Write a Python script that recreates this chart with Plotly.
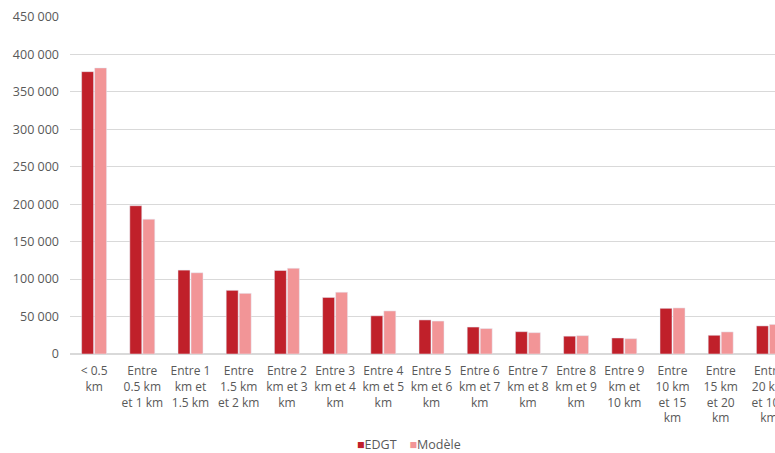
import plotly.graph_objects as go

categories = [
    "< 0.5<br>km",
    "Entre<br>0.5 km<br>et 1 km",
    "Entre 1<br>km et<br>1.5 km",
    "Entre<br>1.5 km<br>et 2 km",
    "Entre 2<br>km et 3<br>km",
    "Entre 3<br>km et 4<br>km",
    "Entre 4<br>km et 5<br>km",
    "Entre 5<br>km et 6<br>km",
    "Entre 6<br>km et 7<br>km",
    "Entre 7<br>km et 8<br>km",
    "Entre 8<br>km et 9<br>km",
    "Entre 9<br>km et<br>10 km",
    "Entre<br>10 km<br>et 15<br>km",
    "Entre<br>15 km<br>et 20<br>km",
    "Entre<br>20 km<br>et 100<br>km",
]
edgt = [377000, 198000, 112000, 85000, 111500, 75500, 51000, 45500, 36000,
        29800, 23800, 21400, 61000, 25000, 37500]
modele = [382000, 180000, 108500, 81000, 114500, 82500, 57500, 44000, 34000,
          28500, 24500, 20500, 61500, 29500, 39500]
y_ticks = [0, 50000, 100000, 150000, 200000, 250000, 300000, 350000, 400000, 450000]
series_names = ["EDGT", "Modèle"]
series_colors = ["#C0202A", "#F29597"]

x = list(range(len(categories)))

fig = go.Figure()
fig.add_trace(go.Bar(x=x, y=edgt, name=series_names[0], marker_color=series_colors[0]))
fig.add_trace(go.Bar(x=x, y=modele, name=series_names[1], marker_color=series_colors[1]))

legend_text = "    ".join(
    f"<span style='color:{c}'>■</span>{n}" for n, c in zip(series_names, series_colors)
)

fig.update_layout(
    width=775, height=453,
    margin=dict(l=70, r=0, t=17, b=99, autoexpand=False),
    paper_bgcolor="white", plot_bgcolor="white",
    barmode="group", bargap=0.46, bargroupgap=0.08,
    separators=", ",
    font=dict(family="Open Sans", size=12, color="#595959"),
    showlegend=False,
    annotations=[dict(
        text=legend_text, xref="paper", yref="paper",
        x=(409 - 70) / 705, xanchor="center",
        y=-(445 - 354) / 337, yanchor="middle",
        showarrow=False, borderpad=0,
        font=dict(size=12.5, color="#595959"),
    )],
)
fig.update_xaxes(
    range=[-0.5, -0.5 + 705 / 48.2], autorange=False, automargin=False,
    tickmode="array", tickvals=x, ticktext=categories,
    tickangle=0, showgrid=False, showline=True, linecolor="#D9D9D9",
    ticks="", ticklabelstandoff=6, ticklabeloverflow="allow",
    tickfont=dict(size=12, color="#595959"),
)
fig.update_yaxes(
    range=[0, 450000], autorange=False, automargin=False,
    tickmode="array", tickvals=y_ticks,
    tickformat=",d", showgrid=True, gridcolor="#D9D9D9", gridwidth=1,
    zeroline=True, zerolinecolor="#D9D9D9", showline=False,
    ticks="", ticklabelstandoff=10,
    tickfont=dict(size=12.5, color="#595959"),
)

fig.write_html("out.html")
